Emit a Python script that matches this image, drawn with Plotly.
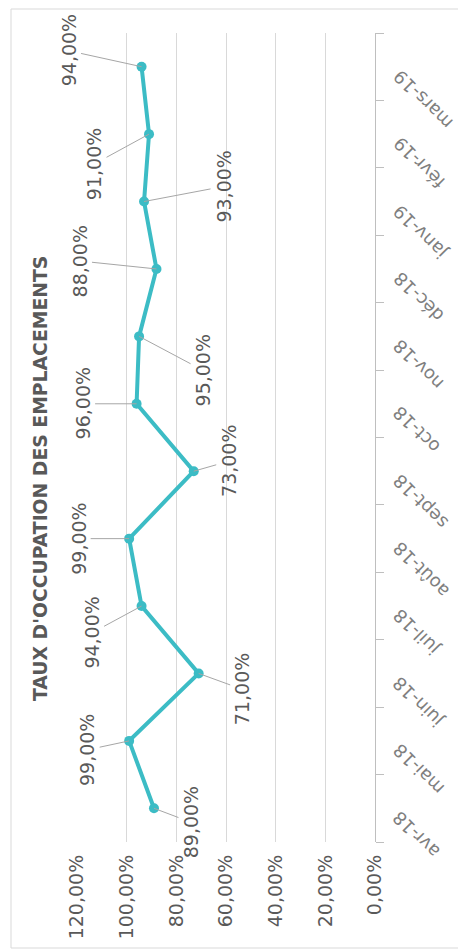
import plotly.graph_objects as go

# ---- data ----
categories = ["avr-18", "mai-18", "juin-18", "juil-18", "août-18", "sept-18",
              "oct-18", "nov-18", "déc-18", "janv-19", "févr-19", "mars-19"]
occupation = [0.89, 0.99, 0.71, 0.94, 0.99, 0.73, 0.96, 0.95, 0.88, 0.93, 0.91, 0.94]
value_ticks = [0, 0.2, 0.4, 0.6, 0.8, 1.0, 1.2]
title_text = "TAUX D'OCCUPATION DES EMPLACEMENTS"

# label offsets (pixels) for the data labels: (ax, ay)
label_offsets = [(37, 14), (-42, 9), (44, 16), (-50, 27), (-51, 0), (35, -10),
                 (-54, 0), (64, 34), (-77, -8), (79, -15), (-55, 30), (-73, -16)]

W, H = 458, 952
FONT = "DejaVu Sans"
LINE_COLOR = "#3CBCC5"
TEXT_COLOR = "#595959"

fig = go.Figure()
fig.add_trace(go.Scatter(
    x=occupation, y=categories, mode="lines+markers",
    line=dict(color=LINE_COLOR, width=4),
    marker=dict(color=LINE_COLOR, size=10),
    cliponaxis=False, hoverinfo="skip", showlegend=False,
))

annotations = []
for cat, v, (ax, ay) in zip(categories, occupation, label_offsets):
    annotations.append(dict(
        x=v, y=cat, xref="x", yref="y",
        text=f"{v*100:.2f}%".replace(".", ","),
        showarrow=True, arrowhead=0, arrowwidth=1, arrowcolor="#A6A6A6",
        ax=ax, ay=ay, standoff=0,
        textangle=-90, font=dict(family=FONT, size=19, color=TEXT_COLOR),
    ))

# category labels (rotated like the original)
for cat in categories:
    annotations.append(dict(
        x=386 / W, y=cat, xref="paper", yref="y",
        text=cat, showarrow=False, textangle=-135,
        xanchor="left", yanchor="top", yshift=4,
        font=dict(family=FONT, size=18, color="#7F7F7F"),
    ))

annotations.append(dict(
    x=40 / W, y=(H - 479) / H, xref="paper", yref="paper",
    text=f"<b>{title_text}</b>", showarrow=False, textangle=-90,
    xanchor="center", yanchor="middle",
    font=dict(family=FONT, size=18.8, color=TEXT_COLOR),
))

fig.update_layout(
    width=W, height=H, autosize=False,
    margin=dict(l=0, r=0, t=0, b=0),
    paper_bgcolor="white", plot_bgcolor="white",
    separators=", ",
    xaxis=dict(
        domain=[77 / W, 375 / W], range=[1.2, 0], automargin=False,
        tickvals=value_ticks, tickformat=".2%", tickangle=-90,
        tickfont=dict(family=FONT, size=19, color=TEXT_COLOR),
        showgrid=True, gridcolor="#D9D9D9", gridwidth=1,
        zeroline=False, showline=False, ticks="", ticklabelstandoff=8,
    ),
    yaxis=dict(
        domain=[(H - 842) / H, (H - 33) / H], range=[-0.5, 11.5], automargin=False,
        type="category", categoryorder="array", categoryarray=categories,
        side="right", showgrid=False, zeroline=False,
        showline=True, linecolor="#BFBFBF", linewidth=1,
        ticks="outside", ticklen=8, tickcolor="#BFBFBF", tickson="boundaries",
        showticklabels=False,
    ),
    annotations=annotations,
    shapes=[dict(type="rect", xref="paper", yref="paper",
                 x0=11 / W, x1=1.2, y0=(H - 948) / H, y1=(H - 9) / H,
                 line=dict(color="#D9D9D9", width=1))],
)

fig.write_html("out.html",
               config={"displayModeBar": False},
               post_script="document.body.style.margin='0';"
                           "document.body.style.overflow='hidden';")
